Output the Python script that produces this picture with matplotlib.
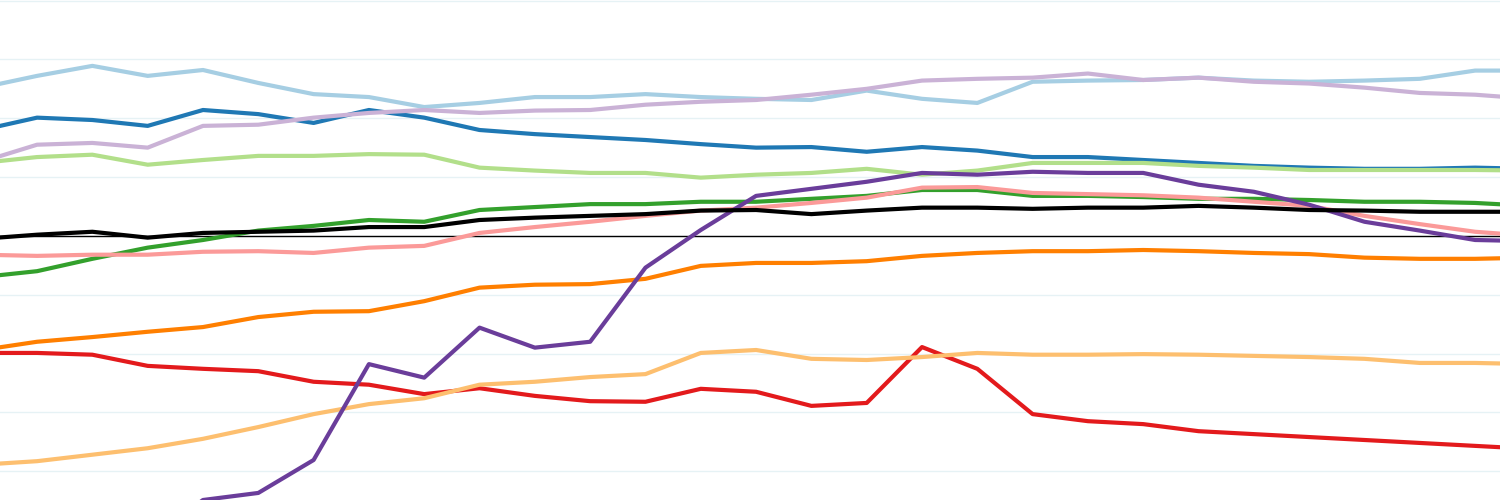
import matplotlib
matplotlib.use("Agg")
import matplotlib.pyplot as plt
import numpy as np

x = np.arange(29)
light_blue = [25.2,27.2,28.9,27.2,28.2,26.0,24.1,23.6,21.9,22.6,23.6,23.6,24.1,23.6,23.3,23.1,24.7,23.3,22.6,26.2,26.4,26.5,26.9,26.4,26.2,26.4,26.7,28.1,28.1]
dark_blue = [18.0,20.1,19.7,18.7,21.4,20.7,19.2,21.4,20.1,18.0,17.3,16.8,16.3,15.6,15.0,15.1,14.3,15.1,14.5,13.4,13.4,12.9,12.4,11.9,11.6,11.4,11.4,11.6,11.4]
lilac = [12.6,15.5,15.8,15.0,18.7,18.9,20.1,20.9,21.4,20.9,21.3,21.4,22.3,22.8,23.1,24.0,25.0,26.4,26.7,26.9,27.6,26.5,26.9,26.2,25.9,25.2,24.3,24.0,23.3]
light_green = [12.4,13.4,13.8,12.1,12.9,13.6,13.6,13.9,13.8,11.6,11.1,10.7,10.7,9.9,10.4,10.7,11.4,10.4,11.1,12.4,12.4,12.4,11.9,11.6,11.2,11.2,11.2,11.2,11.1]
green = [-7.0,-6.0,-3.9,-2.0,-0.7,0.9,1.7,2.7,2.4,4.4,4.9,5.4,5.4,5.8,5.8,6.3,6.8,7.8,7.8,6.8,6.8,6.6,6.3,6.3,6.1,5.8,5.8,5.6,5.1]
black = [-0.5,0.2,0.7,-0.3,0.5,0.7,0.9,1.5,1.5,2.7,3.1,3.4,3.7,4.3,4.4,3.7,4.3,4.8,4.8,4.6,4.8,4.8,5.1,4.8,4.4,4.3,4.1,4.1,4.1]
pink = [-3.2,-3.4,-3.2,-3.2,-2.7,-2.6,-2.9,-2.0,-1.7,0.5,1.5,2.4,3.4,4.3,4.8,5.6,6.5,8.2,8.3,7.3,7.1,6.9,6.5,5.8,5.1,3.4,2.0,0.7,0.0]
orange = [-19.4,-18.0,-17.2,-16.3,-15.5,-13.8,-12.9,-12.8,-11.1,-8.8,-8.3,-8.2,-7.3,-5.1,-4.6,-4.6,-4.3,-3.4,-2.9,-2.6,-2.6,-2.4,-2.6,-2.9,-3.1,-3.7,-3.9,-3.9,-3.7]
red = [-19.9,-19.9,-20.2,-22.1,-22.6,-23.0,-24.8,-25.3,-26.9,-25.9,-27.2,-28.1,-28.2,-26.0,-26.5,-28.9,-28.4,-18.9,-22.6,-30.3,-31.5,-32.0,-33.2,-33.7,-34.2,-34.7,-35.2,-35.7,-36.2]
light_orange = [-38.9,-38.3,-37.2,-36.1,-34.5,-32.5,-30.3,-28.6,-27.6,-25.3,-24.8,-24.0,-23.5,-19.9,-19.4,-20.9,-21.1,-20.6,-19.9,-20.2,-20.2,-20.1,-20.2,-20.4,-20.6,-20.9,-21.6,-21.6,-21.8]
purple = [-52,-52,-52,-52,-44.9,-43.7,-38.1,-21.8,-24.1,-15.6,-19.0,-18.0,-5.4,1.0,6.8,8.0,9.2,10.7,10.4,10.9,10.7,10.7,8.7,7.5,5.3,2.4,0.9,-0.7,-0.9]

series = [(light_blue,'#a6cee3'),(dark_blue,'#1f78b4'),(lilac,'#cab2d6'),(light_green,'#b2df8a'),
          (green,'#33a02c'),(pink,'#fb9a99'),(orange,'#ff7f00'),(red,'#e31a1c'),
          (light_orange,'#fdbf6f'),(purple,'#6a3d9a'),(black,'#000000')]

fig = plt.figure(figsize=(15,5), dpi=100)
ax = fig.add_axes([0,0,1,1])
for g in range(-40, 50, 10):
    ax.axhline(g, color='#e6f2f5', lw=1, zorder=0)
ax.axhline(0, color='black', lw=1, zorder=1)
for vals, c in series:
    ax.plot(x, vals, color=c, lw=3, zorder=2)
ax.set_xlim(0.33, 27.45)
ax.set_ylim(-44.9, 40.1)
ax.axis('off')
fig.savefig('out.png', dpi=100)
